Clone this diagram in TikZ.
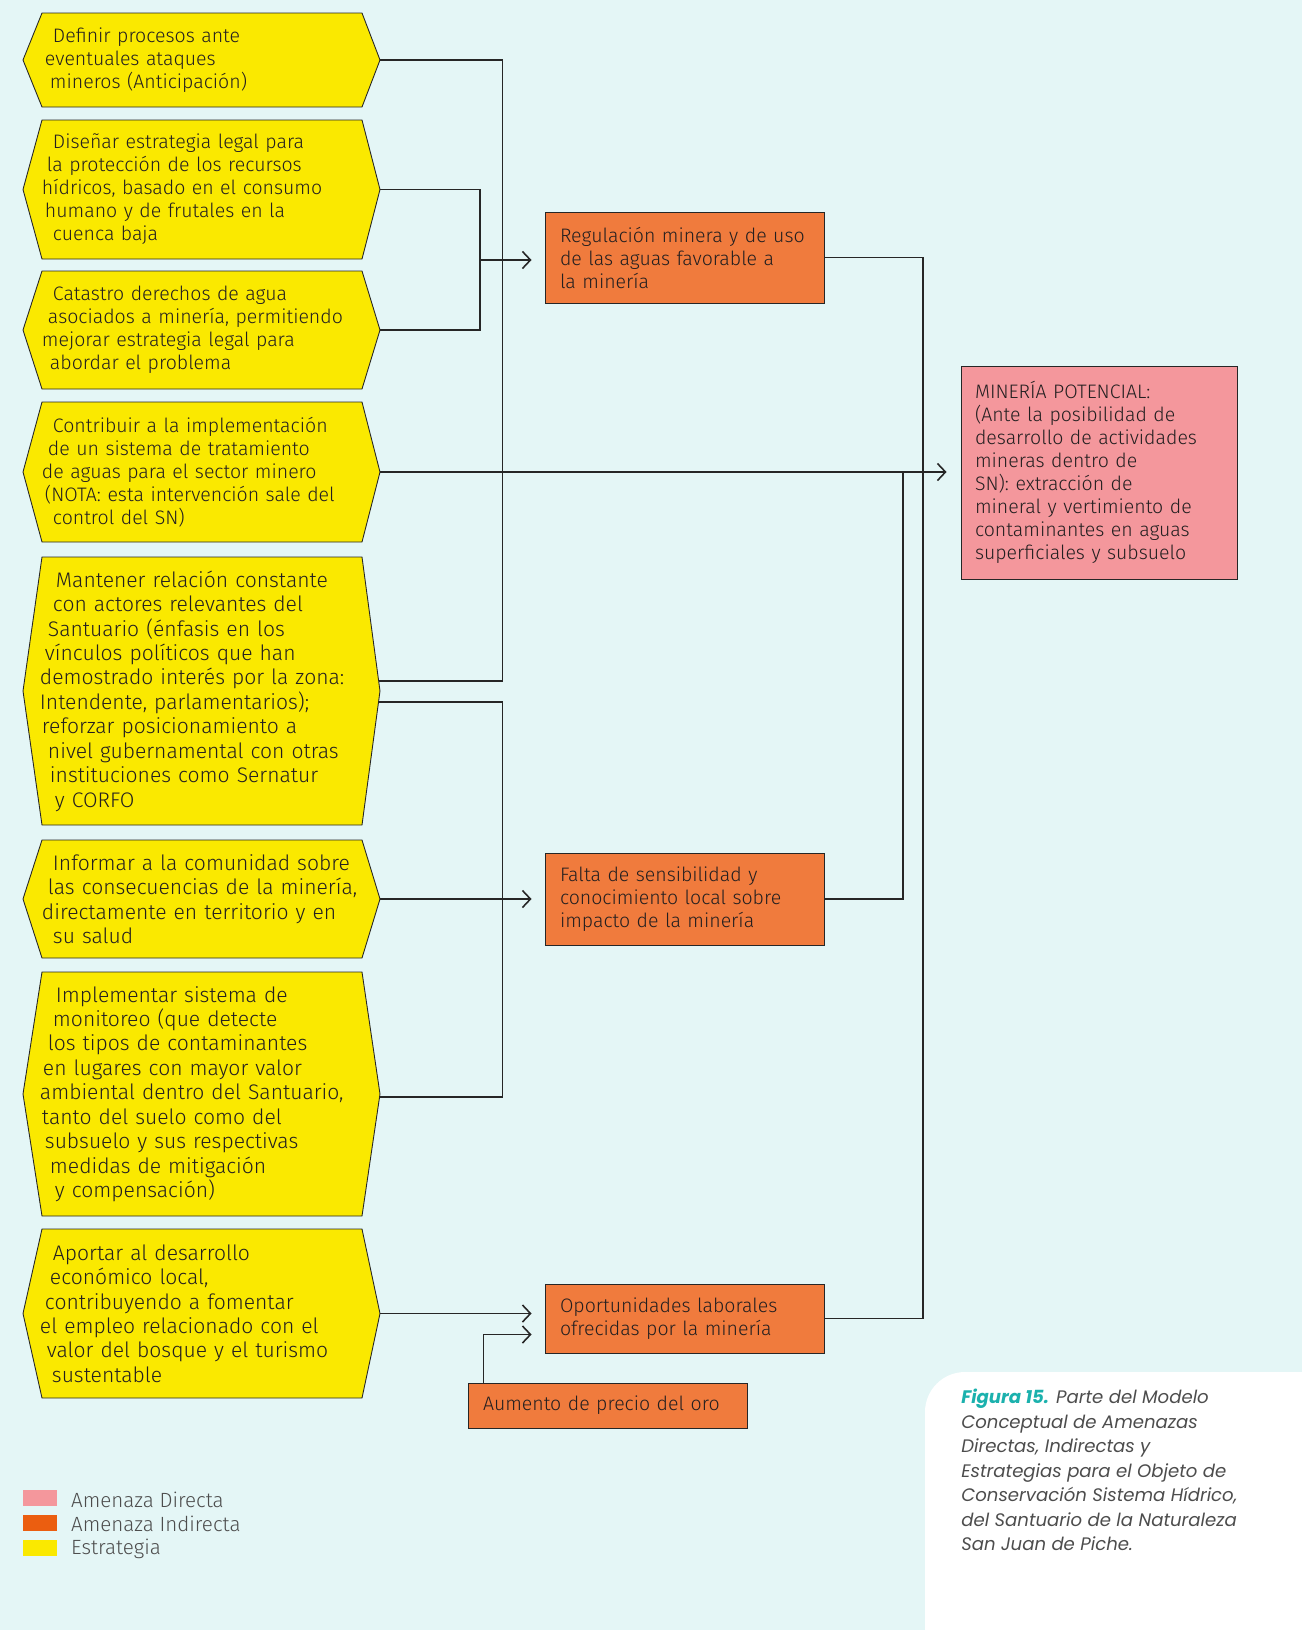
\documentclass[tikz,border=0pt]{standalone}
\usepackage{fontspec}
\setmainfont{Fira Sans}[UprightFont={* Light}]
\newfontfamily\fuentepie{Poppins}
\usepackage{tikz}
\usetikzlibrary{arrows.meta}
\usetikzlibrary{positioning}
\usetikzlibrary{backgrounds}
\usetikzlibrary{calc}
\definecolor{fondo}{HTML}{E4F6F6}
\definecolor{amarillo}{HTML}{FAE900}
\definecolor{naranjo}{HTML}{F07B3D}
\definecolor{rosado}{HTML}{F4979C}
\definecolor{naranjoley}{HTML}{EB5E10}
\definecolor{turquesa}{HTML}{1BB1AD}
\definecolor{texto}{HTML}{231F20}
\definecolor{gris}{HTML}{4D4D4D}
\newdimen\pxu \pxu=0.2mm
\newcommand{\sangria}[1]{\hspace*{#1\pxu}}
\tikzset{
  est_box/.style = {rectangle, inner xsep=0pt, inner ysep=0pt,
    minimum width=68mm, text width=68mm, align=left, text=texto,
    font=\fontsize{11.1}{13.1}\selectfont},% estrategia, texto
  est_fill/.style = {fill=amarillo, draw=black!85, line width=0.5pt},% estrategia, hexagono
  grande/.style = {font=\fontsize{12}{13.9}\selectfont},% estrategia, letra grande
  ind_box/.style = {rectangle, draw=black!85, line width=0.5pt, fill=naranjo,
    inner xsep=3mm, inner ysep=0pt, text width=49.8mm, align=left,
    text=texto, font=\fontsize{11.1}{13.1}\selectfont},% amenaza indirecta
  dir_box/.style = {rectangle, draw=black!85, line width=0.5pt, fill=rosado,
    inner xsep=2.8mm, inner ysep=0pt, text width=49.6mm, align=left,
    text=texto, font=\fontsize{11.1}{13.1}\selectfont},% amenaza directa
  enlace/.style = {draw=black!85, line width=0.9pt}
}
\newcommand{\estrategia}[5][]{%
  \node[est_box, #1, minimum height={(#4-#3)*0.2mm}] (#2) at (210,{(#3+#4)/2}) {#5};
  \begin{scope}[on background layer]
    \filldraw[est_fill] (23,{(#3+#4)/2}) -- (42,#3) -- (362,#3) -- (380,{(#3+#4)/2})
      -- (362,#4) -- (42,#4) -- cycle;
  \end{scope}}

\begin{document}
\begin{tikzpicture}[x=0.2mm,y=-0.2mm,>={Straight Barb[length=1.6mm,width=3.4mm]}]
\useasboundingbox (0,0) rectangle (1302,1630);
\begin{scope}[on background layer]
  \fill[fondo] (0,0) rectangle (1302,1630);
\end{scope}

% estrategias
\estrategia{definir}{13}{107}{\sangria{13}Definir procesos ante\\\sangria{5}eventuales ataques\\\sangria{10}mineros (Anticipación)}
\estrategia{disenar}{120}{259}{\sangria{13}Diseñar estrategia legal para\\\sangria{7}la protección de los recursos\\\sangria{2}hídricos, basado en el consumo\\\sangria{5}humano y de frutales en la\\\sangria{13}cuenca baja}
\estrategia{catastro}{271}{389}{\sangria{13}Catastro derechos de agua\\\sangria{8}asociados a minería, permitiendo\\\sangria{2}mejorar estrategia legal para\\\sangria{10}abordar el problema}
\estrategia{contribuir}{402}{542}{\sangria{13}Contribuir a la implementación\\\sangria{8}de un sistema de tratamiento\\\sangria{2}de aguas para el sector minero\\\sangria{5}(NOTA: esta intervención sale del\\\sangria{13}control del SN)}
\estrategia[grande]{mantener}{557}{825}{\sangria{16}Mantener relación constante\\\sangria{13}con actores relevantes del\\\sangria{8}Santuario (énfasis en los\\\sangria{5}vínculos políticos que han\\demostrado interés por la zona:\\Intendente, parlamentarios);\\\sangria{2}reforzar posicionamiento a\\\sangria{8}nivel gubernamental con otras\\\sangria{10}instituciones como Sernatur\\\sangria{15}y CORFO}
\estrategia[grande]{informar}{840}{958}{\sangria{13}Informar a la comunidad sobre\\\sangria{8}las consecuencias de la minería,\\\sangria{2}directamente en territorio y en\\\sangria{13}su salud}
\estrategia[grande]{implementar}{972}{1216}{\sangria{16}Implementar sistema de\\\sangria{13}monitoreo (que detecte\\\sangria{8}los tipos de contaminantes\\\sangria{3}en lugares con mayor valor\\ambiental dentro del Santuario,\\\sangria{2}tanto del suelo como del\\\sangria{5}subsuelo y sus respectivas\\\sangria{10}medidas de mitigación\\\sangria{15}y compensación)}
\estrategia[grande]{aportar}{1229}{1398}{\sangria{13}Aportar al desarrollo\\\sangria{10}económico local,\\\sangria{5}contribuyendo a fomentar\\el empleo relacionado con el\\\sangria{7}valor del bosque y el turismo\\\sangria{12}sustentable}

% amenazas
\node[ind_box, minimum height=18.2mm] (regulacion) at (684.5,257.5)
  {Regulación minera y de uso\\de las aguas favorable a\\la minería};
\node[ind_box, minimum height=18.4mm] (falta) at (684.5,899)
  {Falta de sensibilidad y\\conocimiento local sobre\\impacto de la minería};
\node[ind_box, minimum height=13.8mm] (oportunidades) at (684.5,1318.5)
  {Oportunidades laborales\\ofrecidas por la minería};
\node[ind_box, minimum height=9mm] (aumento) at (607.5,1405.5)
  {Aumento de precio del oro};
\node[dir_box, minimum height=42.6mm] (mineria) at (1099,472.5)
  {MINERÍA POTENCIAL:\\(Ante la posibilidad de\\desarrollo de actividades\\mineras dentro de\\SN): extracción de\\mineral y vertimiento de\\contaminantes en aguas\\superficiales y subsuelo};

% enlaces
\coordinate (union_a) at (480,260);
\coordinate (riel_a) at (923,473);
\coordinate (riel_b) at (903,473);
\draw[enlace] (definir.east) -| ($(mantener.east)+(122,-10)$) -- ($(mantener.east)+(-1,-10)$);
\draw[enlace] (disenar.east) -| (union_a) |- (catastro.east);
\draw[enlace,->,shorten >=2.6mm] (union_a) -- (union_a -| regulacion.west);
\draw[enlace,->,shorten >=2.8mm] (contribuir.east) -- (contribuir.east -| mineria.west);
\draw[enlace] ($(mantener.east)+(-1,11)$) -| ($(implementar.east)+(122,3)$) -- ($(implementar.east)+(0,3)$);
\draw[enlace,->,shorten >=2.6mm] (informar.east) -- (informar.east -| falta.west);
\draw[enlace,->,shorten >=2.6mm] (aportar.east) -- (aportar.east -| oportunidades.west);
\draw[enlace,->,shorten >=2.6mm] ($(aumento.north west)+(16,0)$) |- ($(oportunidades.west)+(0,16)$);
\draw[enlace] (regulacion.east) -| (riel_a) |- (oportunidades.east);
\draw[enlace] (falta.east) -| (riel_b);

% leyenda
\fill[rosado] (23,1490) rectangle (57,1506);
\fill[naranjoley] (23,1515) rectangle (57,1531);
\fill[amarillo] (23,1540) rectangle (57,1556);
\node[anchor=west, text=gris, font=\fontsize{11.7}{13}\selectfont] (ley_dir) at (65,1500) {Amenaza Directa};
\node[anchor=west, text=gris, font=\fontsize{11.7}{13}\selectfont] (ley_ind) at (65,1524) {Amenaza Indirecta};
\node[anchor=west, text=gris, font=\fontsize{11.7}{13}\selectfont] (ley_est) at (65,1549) {Estrategia};

% pie de figura
\fill[white] (925,1630) [rounded corners=8mm] -- (925,1372) [sharp corners] -- (1302,1372) -- (1302,1630) -- cycle;
\node[anchor=north west, align=left, inner sep=0pt, text=gris,
  font=\fuentepie\itshape\fontsize{10.3}{13.9}\selectfont] (pie) at (961,1389)
  {{\color{turquesa}\bfseries Figura 15.} Parte del Modelo\\Conceptual de Amenazas\\Directas, Indirectas y\\Estrategias para el Objeto de\\Conservación Sistema Hídrico,\\del Santuario de la Naturaleza\\San Juan de Piche.};
\end{tikzpicture}
\end{document}
